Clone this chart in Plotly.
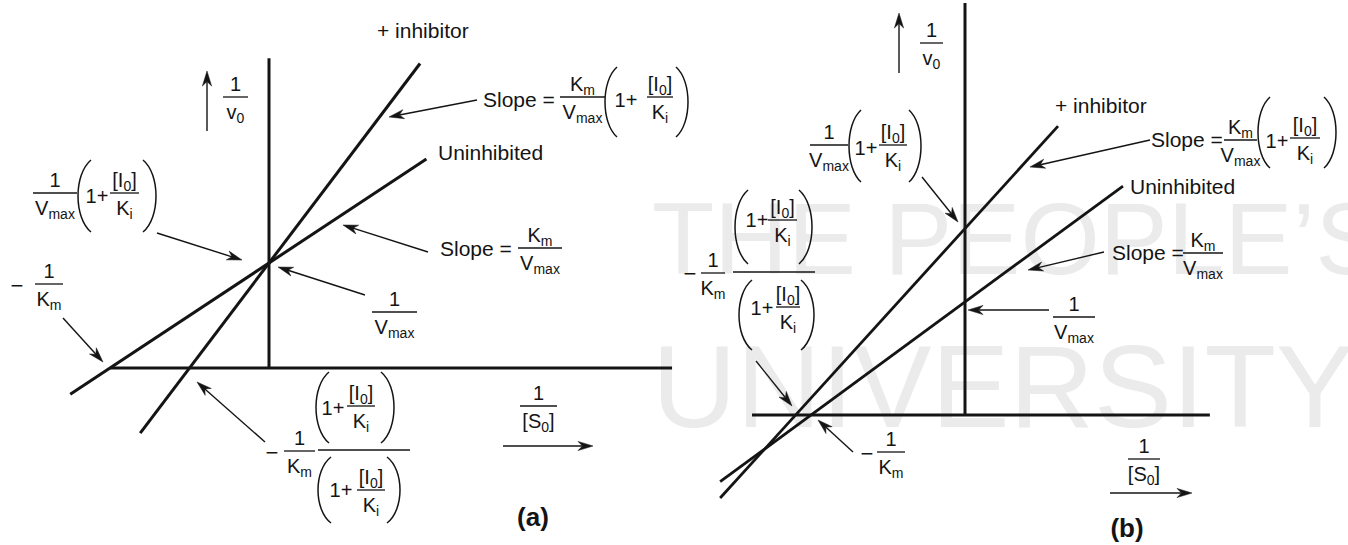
import math
import plotly.graph_objects as go

W, H = 1348, 545
INK = "#141414"
WM = "#ebebeb"
FONT = "Liberation Sans, Arial, Helvetica, sans-serif"

# ---- Lineweaver-Burk data (arbitrary units) ----
# (a) competitive inhibition: common 1/Vmax intercept, slope scaled by (1 + [I0]/Ki)
km_a, vmax_a = 1.0, 1.0
factor_a = 2.0                       # 1 + [I0]/Ki
uninh_x_a = [-1.25, 0.99]
inh_x_a = [-0.81, 0.95]
xaxis_span_a = [-1.0, 2.535]
yaxis_span_a = [0.0, 2.95]

# (b) mixed inhibition: slope and intercept both raised by the inhibitor
km_b, vmax_b = 1.0, 1.0
slope_factor_b = 1.5
intercept_factor_b = 1.65
uninh_x_b = [-1.59, 1.026]
inh_x_b = [-1.59, 0.604]
xaxis_span_b = [-1.383, 1.59]
yaxis_span_b = [0.0, 3.646]

# background lettering
watermark_words = ["THE PEOPLE\u2019S", "UNIVERSITY"]

shapes = []
lab_x, lab_y, lab_t, lab_s, lab_p = [], [], [], [], []
DY = 2  # baseline nudge for the text layer


def label(x, y, s, size=20, anchor="center"):
    # x, y in pixels from the top-left corner
    lab_x.append(x)
    lab_y.append(y + DY)
    lab_t.append(s)
    lab_s.append(size)
    lab_p.append("middle center" if anchor == "center" else "middle right")


def bar(x0, x1, y, w=1.3):
    shapes.append(dict(type="line", xref="x", yref="y", x0=x0, x1=x1, y0=y, y1=y,
                       line=dict(color=INK, width=w)))


def frac(x0, x1, yb, num, den, size=20, dn=13, dd=15):
    cx = (x0 + x1) / 2
    bar(x0, x1, yb)
    label(cx, yb - dn, num, size)
    label(cx, yb + dd, den, size)


def paren(xl, xr, yt, yb, side, lw=1.5):
    h = yb - yt
    xe, xm = (xr, xl) if side == "(" else (xl, xr)
    xc = (xm - 0.25 * xe) / 0.75
    path = f"M{xe},{yt} C{xc},{yt + 0.2 * h} {xc},{yb - 0.2 * h} {xe},{yb}"
    shapes.append(dict(type="path", xref="x", yref="y", path=path,
                       line=dict(color=INK, width=lw)))


def arrow(x0, y0, x1, y1, L=15, hw=4.6, notch=4.5, lw=1.4):
    d = math.hypot(x1 - x0, y1 - y0)
    ux, uy = (x1 - x0) / d, (y1 - y0) / d
    nx, ny = -uy, ux
    bx, by = x1 - ux * L, y1 - uy * L
    mx, my = x1 - ux * (L - notch), y1 - uy * (L - notch)
    shapes.append(dict(type="line", xref="x", yref="y", x0=x0, y0=y0, x1=mx, y1=my,
                       line=dict(color=INK, width=lw)))
    path = (f"M{x1},{y1} L{bx + nx * hw},{by + ny * hw} L{mx},{my} "
            f"L{bx - nx * hw},{by - ny * hw} Z")
    shapes.append(dict(type="path", xref="x", yref="y", path=path, fillcolor=INK,
                       line=dict(color=INK, width=0.5)))


def lb(xs, slope, intercept):
    return xs, [slope * x + intercept for x in xs]


fig = go.Figure()

# pale background lettering (pixel-unit axes, drawn first so it sits underneath)
fig.add_trace(go.Scatter(x=[652, 652], y=[248, 398], text=watermark_words, mode="text",
                         textposition="middle right", cliponaxis=True,
                         textfont=dict(family=FONT, size=[102, 117], color=WM),
                         hoverinfo="skip", showlegend=False, xaxis="x", yaxis="y"))

# ---- panel (a) ----
s_u_a, i_u_a = km_a / vmax_a, 1 / vmax_a
s_i_a = s_u_a * factor_a
for xs, s, b in [(uninh_x_a, s_u_a, i_u_a), (inh_x_a, s_i_a, i_u_a)]:
    x, y = lb(xs, s, b)
    fig.add_trace(go.Scatter(x=x, y=y, mode="lines", line=dict(color=INK, width=3),
                             xaxis="x2", yaxis="y2", hoverinfo="skip", showlegend=False))
fig.add_trace(go.Scatter(x=xaxis_span_a, y=[0, 0], mode="lines", line=dict(color=INK, width=3),
                         xaxis="x2", yaxis="y2", hoverinfo="skip", showlegend=False))
fig.add_trace(go.Scatter(x=[0, 0], y=yaxis_span_a, mode="lines", line=dict(color=INK, width=3),
                         xaxis="x2", yaxis="y2", hoverinfo="skip", showlegend=False))

# ---- panel (b) ----
s_u_b, i_u_b = km_b / vmax_b, 1 / vmax_b
s_i_b, i_i_b = s_u_b * slope_factor_b, i_u_b * intercept_factor_b
for xs, s, b in [(uninh_x_b, s_u_b, i_u_b), (inh_x_b, s_i_b, i_i_b)]:
    x, y = lb(xs, s, b)
    fig.add_trace(go.Scatter(x=x, y=y, mode="lines", line=dict(color=INK, width=2.8),
                             xaxis="x3", yaxis="y3", hoverinfo="skip", showlegend=False))
fig.add_trace(go.Scatter(x=xaxis_span_b, y=[0, 0], mode="lines", line=dict(color=INK, width=3),
                         xaxis="x3", yaxis="y3", hoverinfo="skip", showlegend=False))
fig.add_trace(go.Scatter(x=[0, 0], y=yaxis_span_b, mode="lines", line=dict(color=INK, width=3),
                         xaxis="x3", yaxis="y3", hoverinfo="skip", showlegend=False))

KM, VMAX, KI, I0 = "K<sub>m</sub>", "V<sub>max</sub>", "K<sub>i</sub>", "[I<sub>0</sub>]"
V0, S0 = "v<sub>0</sub>", "[S<sub>0</sub>]"
MINUS = "\u2212"

# ---- labels, panel (a) ----
frac(223, 248, 97, "1", V0)
arrow(207, 131, 207, 71)
label(377, 31, "+ inhibitor", size=21, anchor="left")

label(483, 100, "Slope =", size=21, anchor="left")
frac(560, 605, 97, KM, VMAX)
paren(605, 617, 67, 137, "(")
label(626, 100, "1+")
frac(647, 673, 97, I0, KI)
paren(676, 688, 67, 137, ")")
arrow(477, 100, 389, 117)

label(438, 153, "Uninhibited", size=21, anchor="left")

label(440, 249, "Slope =", size=21, anchor="left")
frac(518, 562, 248, KM, VMAX)
arrow(428, 252, 343, 225)

frac(372, 417, 312, "1", VMAX)
arrow(365, 295, 278, 267)

frac(33, 77, 193, "1", VMAX)
paren(78, 91, 160, 232, "(")
label(97, 196, "1+")
frac(110, 139, 193, I0, KI)
paren(143, 156, 160, 232, ")")
arrow(157, 233, 242, 260)

label(17, 285, MINUS, size=22)
frac(35, 63, 284, "1", KM)
arrow(63, 318, 103, 362)

label(272, 452, MINUS, size=22)
frac(284, 315, 451, "1", KM)
bar(318, 410, 450)
paren(316, 329, 372, 443, "(")
label(333, 408, "1+")
frac(347, 375, 406, I0, KI)
paren(381, 394, 372, 443, ")")
paren(318, 331, 457, 523, "(")
label(341, 490, "1+")
frac(357, 385, 490, I0, KI)
paren(387, 400, 457, 523, ")")
arrow(265, 442, 197, 382)

frac(520, 557, 406, "1", S0)
arrow(503, 446, 593, 446)

label(533, 517, "<b>(a)</b>", size=26)

# ---- labels, panel (b) ----
frac(920, 943, 43, "1", V0)
arrow(899, 73, 899, 13)
label(1055, 106, "+ inhibitor", size=21, anchor="left")

label(1151, 140, "Slope =", size=21, anchor="left")
frac(1224, 1257, 140, KM, VMAX)
paren(1258, 1270, 97, 168, "(")
label(1277, 141, "1+")
frac(1290, 1320, 138, I0, KI)
paren(1324, 1336, 97, 168, ")")
arrow(1150, 140, 1030, 167)

label(1130, 187, "Uninhibited", size=21, anchor="left")

label(1112, 253, "Slope =", size=21, anchor="left")
frac(1183, 1223, 253, KM, VMAX)
arrow(1104, 252, 1028, 270)

frac(1053, 1095, 317, "1", VMAX)
arrow(1049, 310, 968, 310)

frac(810, 848, 145, "1", VMAX)
paren(849, 861, 110, 182, "(")
label(866, 148, "1+")
frac(879, 907, 145, I0, KI)
paren(909, 921, 110, 182, ")")
arrow(922, 177, 958, 222)

label(690, 273, MINUS, size=22)
frac(701, 725, 273, "1", KM)
bar(733, 815, 272)
paren(735, 748, 190, 264, "(")
label(757, 220, "1+")
frac(768, 797, 220, I0, KI)
paren(799, 812, 190, 264, ")")
paren(739, 752, 280, 350, "(")
label(762, 308, "1+")
frac(776, 800, 307, I0, KI)
paren(801, 814, 280, 350, ")")
arrow(756, 361, 792, 406)

label(867, 453, MINUS, size=22)
frac(877, 905, 452, "1", KM)
arrow(853, 452, 818, 420)

frac(1128, 1160, 459, "1", S0)
arrow(1110, 493, 1192, 493)

label(1127, 528, "<b>(b)</b>", size=26)

# all formula text as one text layer on the pixel axes
fig.add_trace(go.Scatter(x=lab_x, y=lab_y, text=lab_t, mode="text", textposition=lab_p,
                         cliponaxis=False,
                         textfont=dict(family=FONT, size=lab_s, color=INK),
                         hoverinfo="skip", showlegend=False, xaxis="x", yaxis="y"))

hidden = dict(visible=False, fixedrange=True)
fig.update_layout(
    width=W, height=H, margin=dict(l=0, r=0, t=0, b=0, pad=0),
    paper_bgcolor="white", plot_bgcolor="rgba(0,0,0,0)", showlegend=False,
    xaxis=dict(domain=[0, 1], range=[0, W], **hidden),
    yaxis=dict(domain=[0, 1], range=[H, 0], **hidden),
    xaxis2=dict(domain=[0, 1], range=[-269 / 159, (W - 269) / 159], anchor="y2", **hidden),
    yaxis2=dict(domain=[0, 1], range=[-(H - 368) / 105, 368 / 105], anchor="x2", **hidden),
    xaxis3=dict(domain=[0, 1], range=[-965 / 154, (W - 965) / 154], anchor="y3", **hidden),
    yaxis3=dict(domain=[0, 1], range=[-(H - 415) / 113, 415 / 113], anchor="x3", **hidden),
    shapes=shapes,
)

fig.write_html("out.html")
